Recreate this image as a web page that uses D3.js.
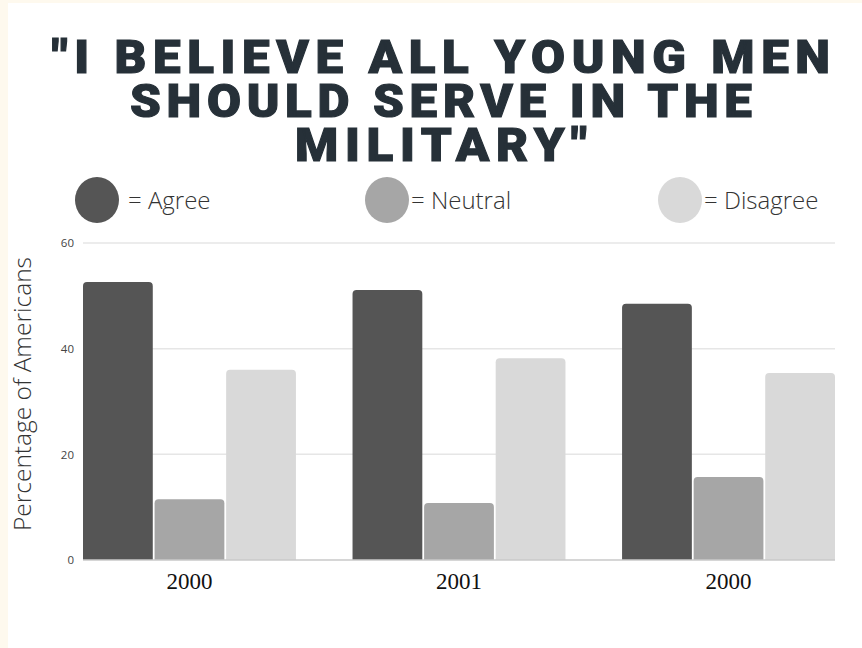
<!DOCTYPE html>
<html>
<head>
<meta charset="utf-8">
<script src="https://cdn.jsdelivr.net/npm/d3@7"></script>
<style>
  body { margin: 0; background: #fef9ee; }
  svg { display: block; }
</style>
</head>
<body>
<div class="chart"></div>
<script>
var svgWidth = 862;
var svgHeight = 648;

// data
var years = ["2000", "2001", "2000 "];
var seriesNames = ["Agree", "Neutral", "Disagree"];
var agree = [52.6, 51.1, 48.5];
var neutral = [11.5, 10.8, 15.7];
var disagree = [36.0, 38.2, 35.4];
var yTicks = [0, 20, 40, 60];
var titleLines = ["\"I BELIEVE ALL YOUNG MEN", "SHOULD SERVE IN THE", "MILITARY\""];

var colors = ["#555555", "#a6a6a6", "#d9d9d9"];
var series = [agree, neutral, disagree];

var margin = { top: 243, right: 27, bottom: 88, left: 83 };
var width = svgWidth - margin.left - margin.right;
var height = svgHeight - margin.top - margin.bottom;

var svg = d3.select(".chart")
    .append("svg")
    .attr("width", svgWidth)
    .attr("height", svgHeight);

// white card with cream edge at left / top
svg.append("rect")
    .attr("x", 8).attr("y", 3)
    .attr("width", svgWidth - 8).attr("height", svgHeight - 3)
    .attr("fill", "#ffffff");

// title
var titleWidths = [778, 622, 292];
var sx = 1.05;
svg.selectAll(".title")
    .data(titleLines)
    .join("text")
    .attr("class", "title")
    .attr("transform", (d, i) => `translate(441,${73 + i * 44}) scale(${sx},1)`)
    .attr("text-anchor", "middle")
    .attr("font-family", "Roboto, 'DejaVu Sans', sans-serif")
    .attr("font-weight", 900)
    .attr("font-size", "47px")
    .attr("fill", "#263038")
    .attr("stroke", "#263038")
    .attr("stroke-width", 1.1)
    .attr("textLength", (d, i) => titleWidths[i] / sx)
    .attr("lengthAdjust", "spacing")
    .text(d => d);

// legend
var legendX = [97, 387, 680];
var legend = svg.selectAll(".legend")
    .data(seriesNames)
    .join("g")
    .attr("class", "legend")
    .attr("transform", (d, i) => `translate(${legendX[i]},200)`);

legend.append("ellipse")
    .attr("rx", 22).attr("ry", 23)
    .attr("fill", (d, i) => colors[i]);

legend.append("text")
    .attr("x", (d, i) => i == 0 ? 31 : 24)
    .attr("y", 9)
    .attr("font-family", "'Open Sans', sans-serif")
    .attr("font-weight", 300)
    .attr("font-size", "24px")
    .attr("fill", "#333")
    .text(d => "= " + d);

var chartGroup = svg.append("g")
    .attr("transform", `translate(${margin.left}, ${margin.top})`);

var x0 = d3.scaleBand()
    .domain(years)
    .range([0, width])
    .paddingInner(0.21)
    .paddingOuter(0);

var x1 = d3.scaleBand()
    .domain(seriesNames)
    .range([0, x0.bandwidth()])
    .paddingInner(0.025);

var y = d3.scaleLinear()
    .domain([0, 60])
    .range([height, 0]);

// gridlines
chartGroup.selectAll(".grid")
    .data(yTicks.filter(d => d > 0))
    .join("line")
    .attr("class", "grid")
    .attr("x1", 0).attr("x2", width)
    .attr("y1", d => y(d)).attr("y2", d => y(d))
    .attr("stroke", "#e6e6e6")
    .attr("stroke-width", 1.5);

// y axis
var leftAxis = d3.axisLeft(y).tickValues(yTicks).tickSize(0).tickPadding(9);
var yAxis = chartGroup.append("g").call(leftAxis);
yAxis.select(".domain").remove();
yAxis.selectAll("text")
    .attr("font-family", "'Open Sans', sans-serif")
    .attr("font-size", "11.5px")
    .attr("fill", "#444");

// bars with rounded tops
function barPath(x, yTop, w, h, r) {
    r = Math.min(r, h, w / 2);
    return `M${x},${yTop + h}V${yTop + r}Q${x},${yTop} ${x + r},${yTop}` +
        `H${x + w - r}Q${x + w},${yTop} ${x + w},${yTop + r}V${yTop + h}Z`;
}

var groups = chartGroup.selectAll(".group")
    .data(years)
    .join("g")
    .attr("class", "group")
    .attr("transform", d => `translate(${x0(d)},0)`);

groups.selectAll("path")
    .data((d, gi) => seriesNames.map((s, si) => ({ s: s, si: si, v: series[si][gi] })))
    .join("path")
    .attr("d", d => barPath(x1(d.s), y(d.v), x1.bandwidth(), height - y(d.v), 4))
    .attr("fill", d => colors[d.si]);

// baseline
chartGroup.append("line")
    .attr("x1", 0).attr("x2", width)
    .attr("y1", height).attr("y2", height)
    .attr("stroke", "#c8c8c8")
    .attr("stroke-width", 1.5);

// x axis labels
var bottomAxis = d3.axisBottom(x0).tickSize(0).tickPadding(13);
var xAxis = chartGroup.append("g")
    .attr("transform", `translate(0,${height})`)
    .call(bottomAxis);
xAxis.select(".domain").remove();
xAxis.selectAll("text")
    .attr("font-family", "'Liberation Serif', 'DejaVu Serif', serif")
    .attr("font-size", "23px")
    .attr("fill", "#111")
    .text(d => d.trim());

// y label
chartGroup.append("text")
    .attr("transform", "rotate(-90)")
    .attr("x", -151)
    .attr("y", -margin.left + 31)
    .attr("text-anchor", "middle")
    .attr("font-family", "'Open Sans', sans-serif")
    .attr("font-weight", 300)
    .attr("font-size", "24.5px")
    .attr("fill", "#333")
    .text("Percentage of Americans");
</script>
</body>
</html>
